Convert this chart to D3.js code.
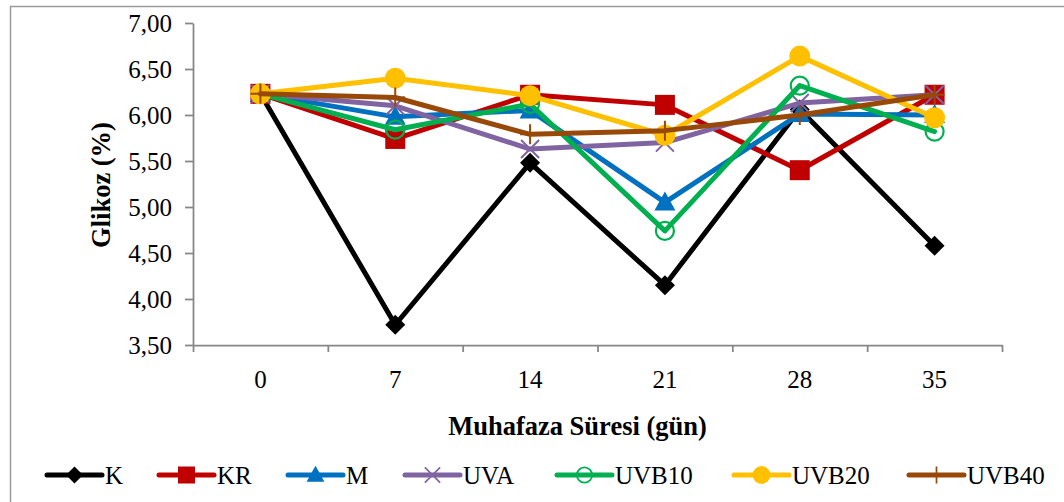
<!DOCTYPE html>
<html>
<head>
<meta charset="utf-8">
<script src="https://cdn.jsdelivr.net/npm/d3@7"></script>
<style>
  html, body { margin: 0; padding: 0; background: #fff; }
  svg { display: block; }
  svg text { font-family: "Liberation Serif", "Times New Roman", serif; }
</style>
</head>
<body>
<div id="chart"></div>
<script>
// storage days and glucose (%) per treatment
const days = ["0", "7", "14", "21", "28", "35"];
const seriesNames = ["K", "KR", "M", "UVA", "UVB10", "UVB20", "UVB40"];
const K     = [6.23, 3.72, 5.48, 4.15, 6.06, 4.58];
const KR    = [6.23, 5.74, 6.22, 6.11, 5.40, 6.22];
const M     = [6.23, 5.98, 6.05, 5.05, 6.01, 6.00];
const UVA   = [6.23, 6.10, 5.63, 5.70, 6.13, 6.22];
const UVB10 = [6.23, 5.84, 6.12, 4.74, 6.32, 5.82];
const UVB20 = [6.23, 6.40, 6.21, 5.78, 6.64, 5.97];
const UVB40 = [6.23, 6.19, 5.79, 5.83, 6.00, 6.22];
const yTicks = [3.5, 4.0, 4.5, 5.0, 5.5, 6.0, 6.5, 7.0];

const seriesValues = [K, KR, M, UVA, UVB10, UVB20, UVB40];
const colors = ["#000000", "#C00000", "#0070C0", "#8064A2", "#00B050", "#FFC000", "#984807"];
const markers = ["diamond", "square", "triangle", "times", "ring", "dot", "plus"];

const width = 1064, height = 502;
const plot = {left: 193, right: 1002, top: 23, bottom: 345};

const svg = d3.select("#chart").append("svg")
    .attr("width", width)
    .attr("height", height);

// outer chart border (runs off the right and bottom edges)
svg.append("rect")
    .attr("x", 10.5).attr("y", 6.5)
    .attr("width", 1100).attr("height", 600)
    .attr("fill", "none")
    .attr("stroke", "#9a9a9a")
    .attr("stroke-width", 1.5);

const x = d3.scaleBand().domain(days).range([plot.left, plot.right]);
const y = d3.scaleLinear().domain([3.5, 7]).range([plot.bottom, plot.top]);
const cx = d => x(d) + x.bandwidth() / 2;

const fmt = d3.formatLocale({decimal: ",", thousands: ".", grouping: [3], currency: ["", ""]}).format(".2f");

// y axis
const yAxis = svg.append("g")
    .attr("transform", `translate(${plot.left},0)`)
    .call(d3.axisLeft(y).tickValues(yTicks).tickFormat(fmt).tickSize(8).tickSizeOuter(0).tickPadding(13));
yAxis.attr("font-family", null).attr("font-size", null);
yAxis.selectAll("text").attr("font-size", 25).attr("fill", "#000").attr("dy", "0.34em");

// x axis: ticks sit on band edges, labels centered in the bands
const xEdge = d3.scaleLinear().domain([0, days.length]).range([plot.left, plot.right]);
const xAxis = svg.append("g")
    .attr("transform", `translate(0,${plot.bottom})`)
    .call(d3.axisBottom(xEdge).tickValues(d3.range(0, days.length + 1)).tickFormat("").tickSize(7).tickSizeOuter(0));
xAxis.attr("font-family", null).attr("font-size", null);
xAxis.append("g").selectAll("text")
    .data(days)
    .join("text")
    .attr("x", d => cx(d))
    .attr("y", 43)
    .attr("text-anchor", "middle")
    .attr("font-size", 25)
    .attr("fill", "#000")
    .text(d => d);

svg.selectAll(".domain, .tick line").attr("stroke", "#868686").attr("stroke-width", 1.75);

// axis titles
svg.append("text")
    .attr("x", (plot.left + plot.right) / 2 - 20)
    .attr("y", 435)
    .attr("text-anchor", "middle")
    .attr("font-size", 26.5)
    .attr("font-weight", "bold")
    .text("Muhafaza Süresi (gün)");

svg.append("text")
    .attr("transform", `translate(110,185) rotate(-90)`)
    .attr("text-anchor", "middle")
    .attr("font-size", 26.5)
    .attr("font-weight", "bold")
    .text("Glikoz (%)");

function drawMarker(g, type, color) {
  if (type === "diamond") {
    g.append("path").attr("d", "M0,-10L10,0L0,10L-10,0Z").attr("fill", color);
  } else if (type === "square") {
    g.append("rect").attr("x", -10).attr("y", -10).attr("width", 20).attr("height", 20).attr("fill", color);
  } else if (type === "triangle") {
    g.append("path").attr("d", "M0,-11L10.5,8L-10.5,8Z").attr("fill", color);
  } else if (type === "times") {
    g.append("path").attr("d", "M-9,-9L9,9M-9,9L9,-9").attr("stroke", color).attr("stroke-width", 2).attr("fill", "none");
  } else if (type === "ring") {
    g.append("circle").attr("r", 9).attr("fill", "none").attr("stroke", color).attr("stroke-width", 2.2);
  } else if (type === "dot") {
    g.append("circle").attr("r", 10.5).attr("fill", color);
  } else if (type === "plus") {
    g.append("path").attr("d", "M0,-10L0,10M-10,0L10,0").attr("stroke", color).attr("stroke-width", 2).attr("fill", "none");
  }
}

const line = d3.line().x(d => cx(d.day)).y(d => y(d.v));

seriesNames.forEach((name, i) => {
  const pts = days.map((day, j) => ({day, v: seriesValues[i][j]}));
  const g = svg.append("g").attr("class", "series");
  g.append("path")
      .datum(pts)
      .attr("d", line)
      .attr("fill", "none")
      .attr("stroke", colors[i])
      .attr("stroke-width", 5)
      .attr("stroke-linejoin", "round")
      .attr("stroke-linecap", "round");
  g.selectAll("g.pt")
      .data(pts)
      .join("g")
      .attr("class", "pt")
      .attr("transform", d => `translate(${cx(d.day)},${y(d.v)})`)
      .each(function() { drawMarker(d3.select(this), markers[i], colors[i]); });
});

// legend
const legendX = [47, 159, 288, 405, 557, 734, 909];
const legendY = 475;
const legend = svg.append("g");
seriesNames.forEach((name, i) => {
  const item = legend.append("g").attr("transform", `translate(${legendX[i]},${legendY})`);
  item.append("line")
      .attr("x1", 0).attr("x2", 55)
      .attr("stroke", colors[i])
      .attr("stroke-width", 5)
      .attr("stroke-linecap", "round");
  const m = item.append("g").attr("transform", "translate(27.5,0) scale(0.85)");
  drawMarker(m, markers[i], colors[i]);
  item.append("text")
      .attr("x", 58)
      .attr("y", 8.5)
      .attr("font-size", 25)
      .attr("fill", "#000")
      .text(name);
});
</script>
</body>
</html>
